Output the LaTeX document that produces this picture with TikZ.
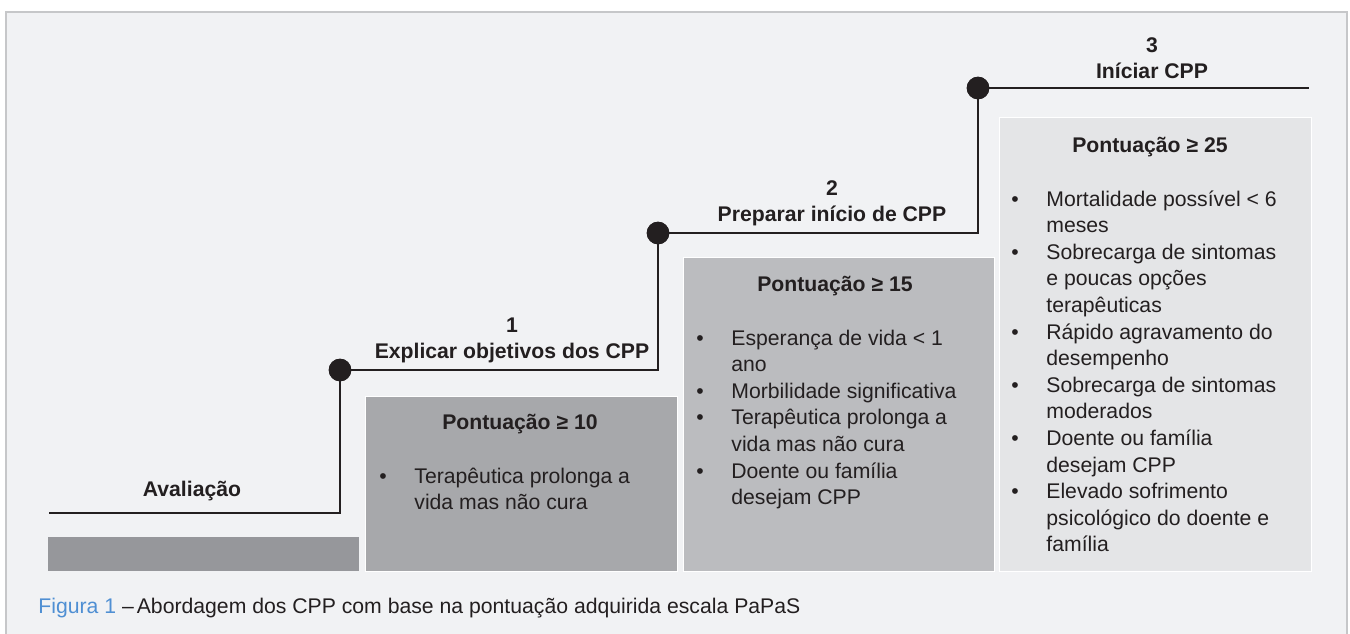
\documentclass[tikz,border=0pt]{standalone}
\usepackage{fontspec}
\setmainfont{Liberation Sans}
\definecolor{bgfill}{HTML}{F1F2F4}
\definecolor{frameline}{HTML}{C6C7C9}
\definecolor{barfill}{HTML}{96979B}
\definecolor{boxone}{HTML}{A7A8AB}
\definecolor{boxtwo}{HTML}{BBBCBF}
\definecolor{boxthree}{HTML}{E4E5E7}
\definecolor{ink}{HTML}{231F20}
\definecolor{capblue}{HTML}{4F8FD3}
\newcommand{\txtsize}{\fontsize{10.6}{13.3}\selectfont}
\tikzset{
  steptext/.style={font=\txtsize\bfseries, text=ink, inner sep=0pt, anchor=base},
  headtext/.style={font=\txtsize\bfseries, text=ink, inner sep=0pt, anchor=base},
  listtext/.style={font=\txtsize, text=ink, inner sep=0pt, anchor=base west},
  captext/.style={font=\txtsize, text=ink, inner sep=0pt, anchor=base west},
  stepline/.style={draw=ink, line width=1pt},
  stepdot/.style={circle, fill=ink, inner sep=0pt, minimum size=11.3pt},
  scorebox/.style={draw=white, line width=0.5pt},
}
\begin{document}
\begin{tikzpicture}[x=0.5pt,y=-0.5pt]
\useasboundingbox (0,0) rectangle (1350,633);
% frame
\fill[white] (0,0) rectangle (1350,633);
\filldraw[fill=bgfill, draw=frameline, line width=1pt] (6,12) rectangle (1347,650);
% boxes
\fill[barfill] (48,537) rectangle (359,571);
\node[scorebox, fill=boxone, anchor=north west, minimum width=156pt, minimum height=87.5pt, inner sep=0pt] (b1) at (365,396) {};
\node[scorebox, fill=boxtwo, anchor=north west, minimum width=155.5pt, minimum height=157pt, inner sep=0pt] (b2) at (683,257) {};
\node[scorebox, fill=boxthree, anchor=north west, minimum width=156pt, minimum height=227pt, inner sep=0pt] (b3) at (999,117) {};
% step path
\coordinate (s0) at (49,513);
\node[stepdot] (d1) at (340,370) {};
\node[stepdot] (d2) at (658,233) {};
\node[stepdot] (d3) at (978,88) {};
\coordinate (e3) at (1309,88);
\draw[stepline] (s0) -| (d1.center);
\draw[stepline] (d1.center) -| (d2.center);
\draw[stepline] (d2.center) -| (d3.center);
\draw[stepline] (d3.center) -- (e3);
\node[stepdot] at (d1) {};
\node[stepdot] at (d2) {};
\node[stepdot] at (d3) {};
% step labels
\node[steptext] (t0) at (192,496) {Avaliação};
\node[steptext] (t1) at (512,332) {\begin{tabular}[t]{@{}c@{}}1\\Explicar objetivos dos CPP\end{tabular}};
\node[steptext] (t2) at (832,195) {\begin{tabular}[t]{@{}c@{}}2\\Preparar início de CPP\end{tabular}};
\node[steptext] (t3) at (1152,52) {\begin{tabular}[t]{@{}c@{}}3\\Iníciar CPP\end{tabular}};
% headings
\node[headtext] (h1) at (520,429) {Pontuação ≥ 10};
\node[headtext] (h2) at (835,291) {Pontuação ≥ 15};
\node[headtext] (h3) at (1150,152) {Pontuação ≥ 25};
% lists
\node[listtext] (l1) at (379,483) {\begin{tabular}[t]{@{}p{17.5pt}@{}l@{}}
•&Terapêutica prolonga a\\
&vida mas não cura
\end{tabular}};
\node[listtext] (l2) at (696,345) {\begin{tabular}[t]{@{}p{17.5pt}@{}l@{}}
•&Esperança de vida < 1\\
&ano\\
•&Morbilidade significativa\\
•&Terapêutica prolonga a\\
&vida mas não cura\\
•&Doente ou família\\
&desejam CPP
\end{tabular}};
\node[listtext] (l3) at (1011,206) {\begin{tabular}[t]{@{}p{17.5pt}@{}l@{}}
•&Mortalidade possível < 6\\
&meses\\
•&Sobrecarga de sintomas\\
&e poucas opções\\
&terapêuticas\\
•&Rápido agravamento do\\
&desempenho\\
•&Sobrecarga de sintomas\\
&moderados\\
•&Doente ou família\\
&desejam CPP\\
•&Elevado sofrimento\\
&psicológico do doente e\\
&família
\end{tabular}};
% caption
\node[captext] (cap) at (38,613) {\textcolor{capblue}{Figura 1} –\kern1.5pt Abordagem dos CPP com base na pontuação adquirida escala PaPaS};
\end{tikzpicture}
\end{document}
